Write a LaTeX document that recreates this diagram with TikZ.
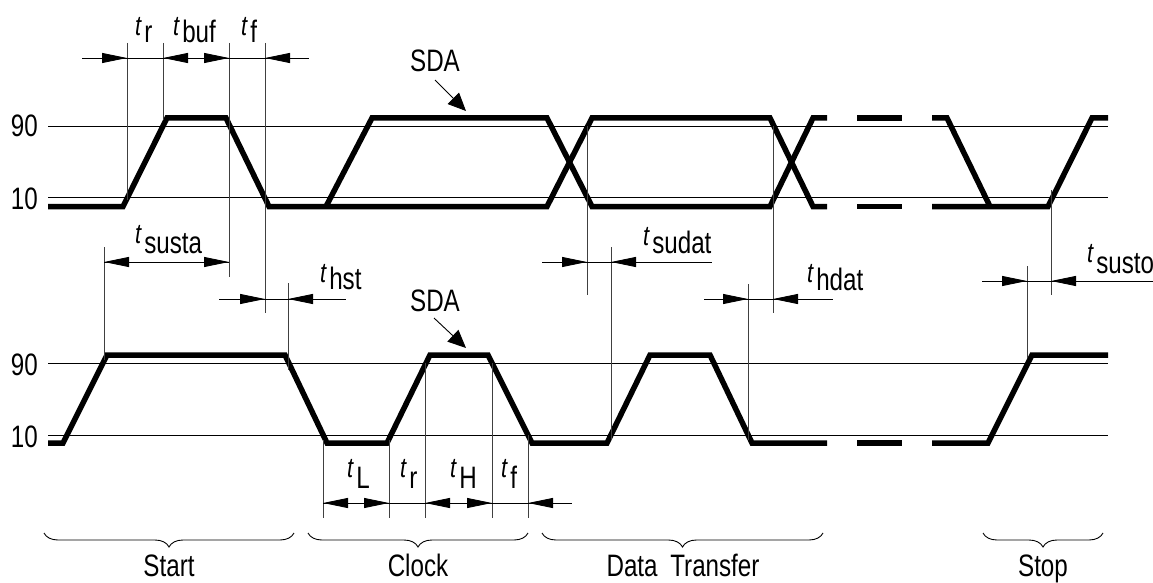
\documentclass[tikz,border=0pt]{standalone}
\usepackage{fontspec}
\setmainfont[FakeStretch=0.78]{Liberation Sans}
\usetikzlibrary{arrows.meta,decorations.pathreplacing}
\newcommand\tsb[2][8]{{\fontsize{28}{28}\selectfont\itshape t}\hspace{3pt}\raisebox{-#1pt}{#2}}
\begin{document}
\begin{tikzpicture}[x=1pt,y=-1pt,
  sig/.style={line width=5.5pt,line join=miter,line cap=butt},
  lvl/.style={line width=0.9pt},
  ext/.style={line width=0.9pt,black!75},
  dim/.style={line width=0.9pt},
  arr/.style={-{Triangle[length=25pt,width=10pt]},line width=0.9pt},
  lab/.style={font=\fontsize{31}{31}\selectfont,inner sep=0pt},
  tl/.style={font=\fontsize{31}{31}\selectfont,inner sep=0pt,anchor=base west},
  brc/.style={decorate,decoration={brace,mirror,amplitude=14pt},line width=0.9pt},
  sda/.style={-{Triangle[length=18pt,width=16pt]},line width=0.9pt}
]
\useasboundingbox (0,0) rectangle (1153,583);
% level lines
\foreach \yy in {126,197,363,435} \draw[lvl] (48,\yy) -- (1108,\yy);
\node[lab,anchor=east] (t90) at (38,126) {90};
\node[lab,anchor=east] (t10) at (38,199) {10};
\node[lab,anchor=east] (b90) at (38,365) {90};
\node[lab,anchor=east] (b10) at (38,437) {10};
% top signal
\draw[sig] (48,206.5) -- (123,206.5) -- (167,118) -- (226,118) -- (269,206.5) -- (547,206.5) -- (592,118) -- (770,118) -- (813,206.5) -- (827,206.5);
\draw[sig] (326,206.5) -- (372,118) -- (547,118) -- (592,206.5) -- (770,206.5) -- (813,118) -- (827,118);
\draw[sig] (857,118) -- (902,118);
\draw[sig] (857,206.5) -- (902,206.5);
\draw[sig] (932,118) -- (947,118) -- (990,206.5);
\draw[sig] (932,206.5) -- (1048,206.5) -- (1092,118) -- (1108,118);
% bottom signal
\draw[sig] (48,443) -- (63,443) -- (107,355) -- (285,355) -- (327,443) -- (387,443) -- (430,355) -- (488,355) -- (532,443) -- (607,443) -- (650,355) -- (710,355) -- (752,443) -- (827,443);
\draw[sig] (857,443) -- (902,443);
\draw[sig] (932,443) -- (988,443) -- (1032,355) -- (1108,355);
% extension lines
\draw[ext] (127,43) -- (127,200);
\draw[ext] (163,43) -- (163,120);
\draw[ext] (229,43) -- (229,277);
\draw[ext] (265,43) -- (265,313);
\draw[ext] (587,126) -- (587,295);
\draw[ext] (773,126) -- (773,313);
\draw[ext] (1051,190) -- (1051,295);
\draw[ext] (104,247) -- (104,360);
\draw[ext] (288,283) -- (288,370);
\draw[ext] (611,247) -- (611,440);
\draw[ext] (748,284) -- (748,440);
\draw[ext] (1027,266) -- (1027,358);
\draw[ext] (323,440) -- (323,518);
\draw[ext] (389,440) -- (389,518);
\draw[ext] (425,363) -- (425,518);
\draw[ext] (492,363) -- (492,518);
\draw[ext] (528,435) -- (528,518);
% dimension lines
\draw[dim] (82,58) -- (309,58);
\draw[arr] (100,58) -- (127,58);
\draw[arr] (189,58) -- (163,58);
\draw[arr] (202,58) -- (229,58);
\draw[arr] (291,58) -- (265,58);
\draw[dim] (104,262) -- (229,262);
\draw[arr] (130,262) -- (104,262);
\draw[arr] (203,262) -- (229,262);
\draw[dim] (219,299) -- (346,299);
\draw[arr] (239,299) -- (265,299);
\draw[arr] (314,299) -- (288,299);
\draw[dim] (542,262) -- (712,262);
\draw[arr] (561,262) -- (587,262);
\draw[arr] (637,262) -- (611,262);
\draw[dim] (704,299) -- (833,299);
\draw[arr] (722,299) -- (748,299);
\draw[arr] (799,299) -- (773,299);
\draw[dim] (982,281) -- (1153,281);
\draw[arr] (1001,281) -- (1027,281);
\draw[arr] (1077,281) -- (1051,281);
\draw[dim] (323,503) -- (572,503);
\draw[arr] (349,503) -- (323,503);
\draw[arr] (363,503) -- (389,503);
\draw[arr] (451,503) -- (425,503);
\draw[arr] (466,503) -- (492,503);
\draw[arr] (554,503) -- (528,503);
% timing labels
\node[tl] (ltr) at (135,36) {\tsb[7]{r}};
\node[tl] (ltbuf) at (173,36) {\tsb[7]{buf}};
\node[tl] (ltf) at (241,36) {\tsb[7]{f}};
\node[tl] (ltsusta) at (135,243) {\tsb[10]{susta}};
\node[tl] (lthst) at (320,282) {\tsb[7]{hst}};
\node[tl] (ltsudat) at (643,245) {\tsb[8]{sudat}};
\node[tl] (lthdat) at (807,282) {\tsb[8]{hdat}};
\node[tl] (ltsusto) at (1087,262) {\tsb[11]{susto}};
\node[tl] (ltL) at (347,477) {\tsb[11]{L}};
\node[tl] (ltr2) at (400,477) {\tsb[11]{r}};
\node[tl] (ltH) at (450,477) {\tsb[11]{H}};
\node[tl] (ltf2) at (501,477) {\tsb[11]{f}};
% SDA
\node[lab] (sda1) at (435,61) {SDA};
\coordinate (sda1s) at (435,80);
\coordinate (sda1e) at (466,111);
\draw[sda] (sda1s) -- (sda1e);
\node[lab] (sda2) at (435,301) {SDA};
\coordinate (sda2s) at (434,318);
\coordinate (sda2e) at (466,348);
\draw[sda] (sda2s) -- (sda2e);
% braces
\draw[brc] (44,533) -- (294,533);
\draw[brc] (308,533) -- (528,533);
\draw[brc] (542,533) -- (823,533);
\draw[brc] (983,533) -- (1103,533);
\node[lab,anchor=base] (start) at (169,576) {Start};
\node[lab,anchor=base] (clock) at (418,576) {Clock};
\node[lab,anchor=base] (data) at (683,576) {Data\hspace{6pt} Transfer};
\node[lab,anchor=base] (stop) at (1043,576) {Stop};
\end{tikzpicture}
\end{document}
